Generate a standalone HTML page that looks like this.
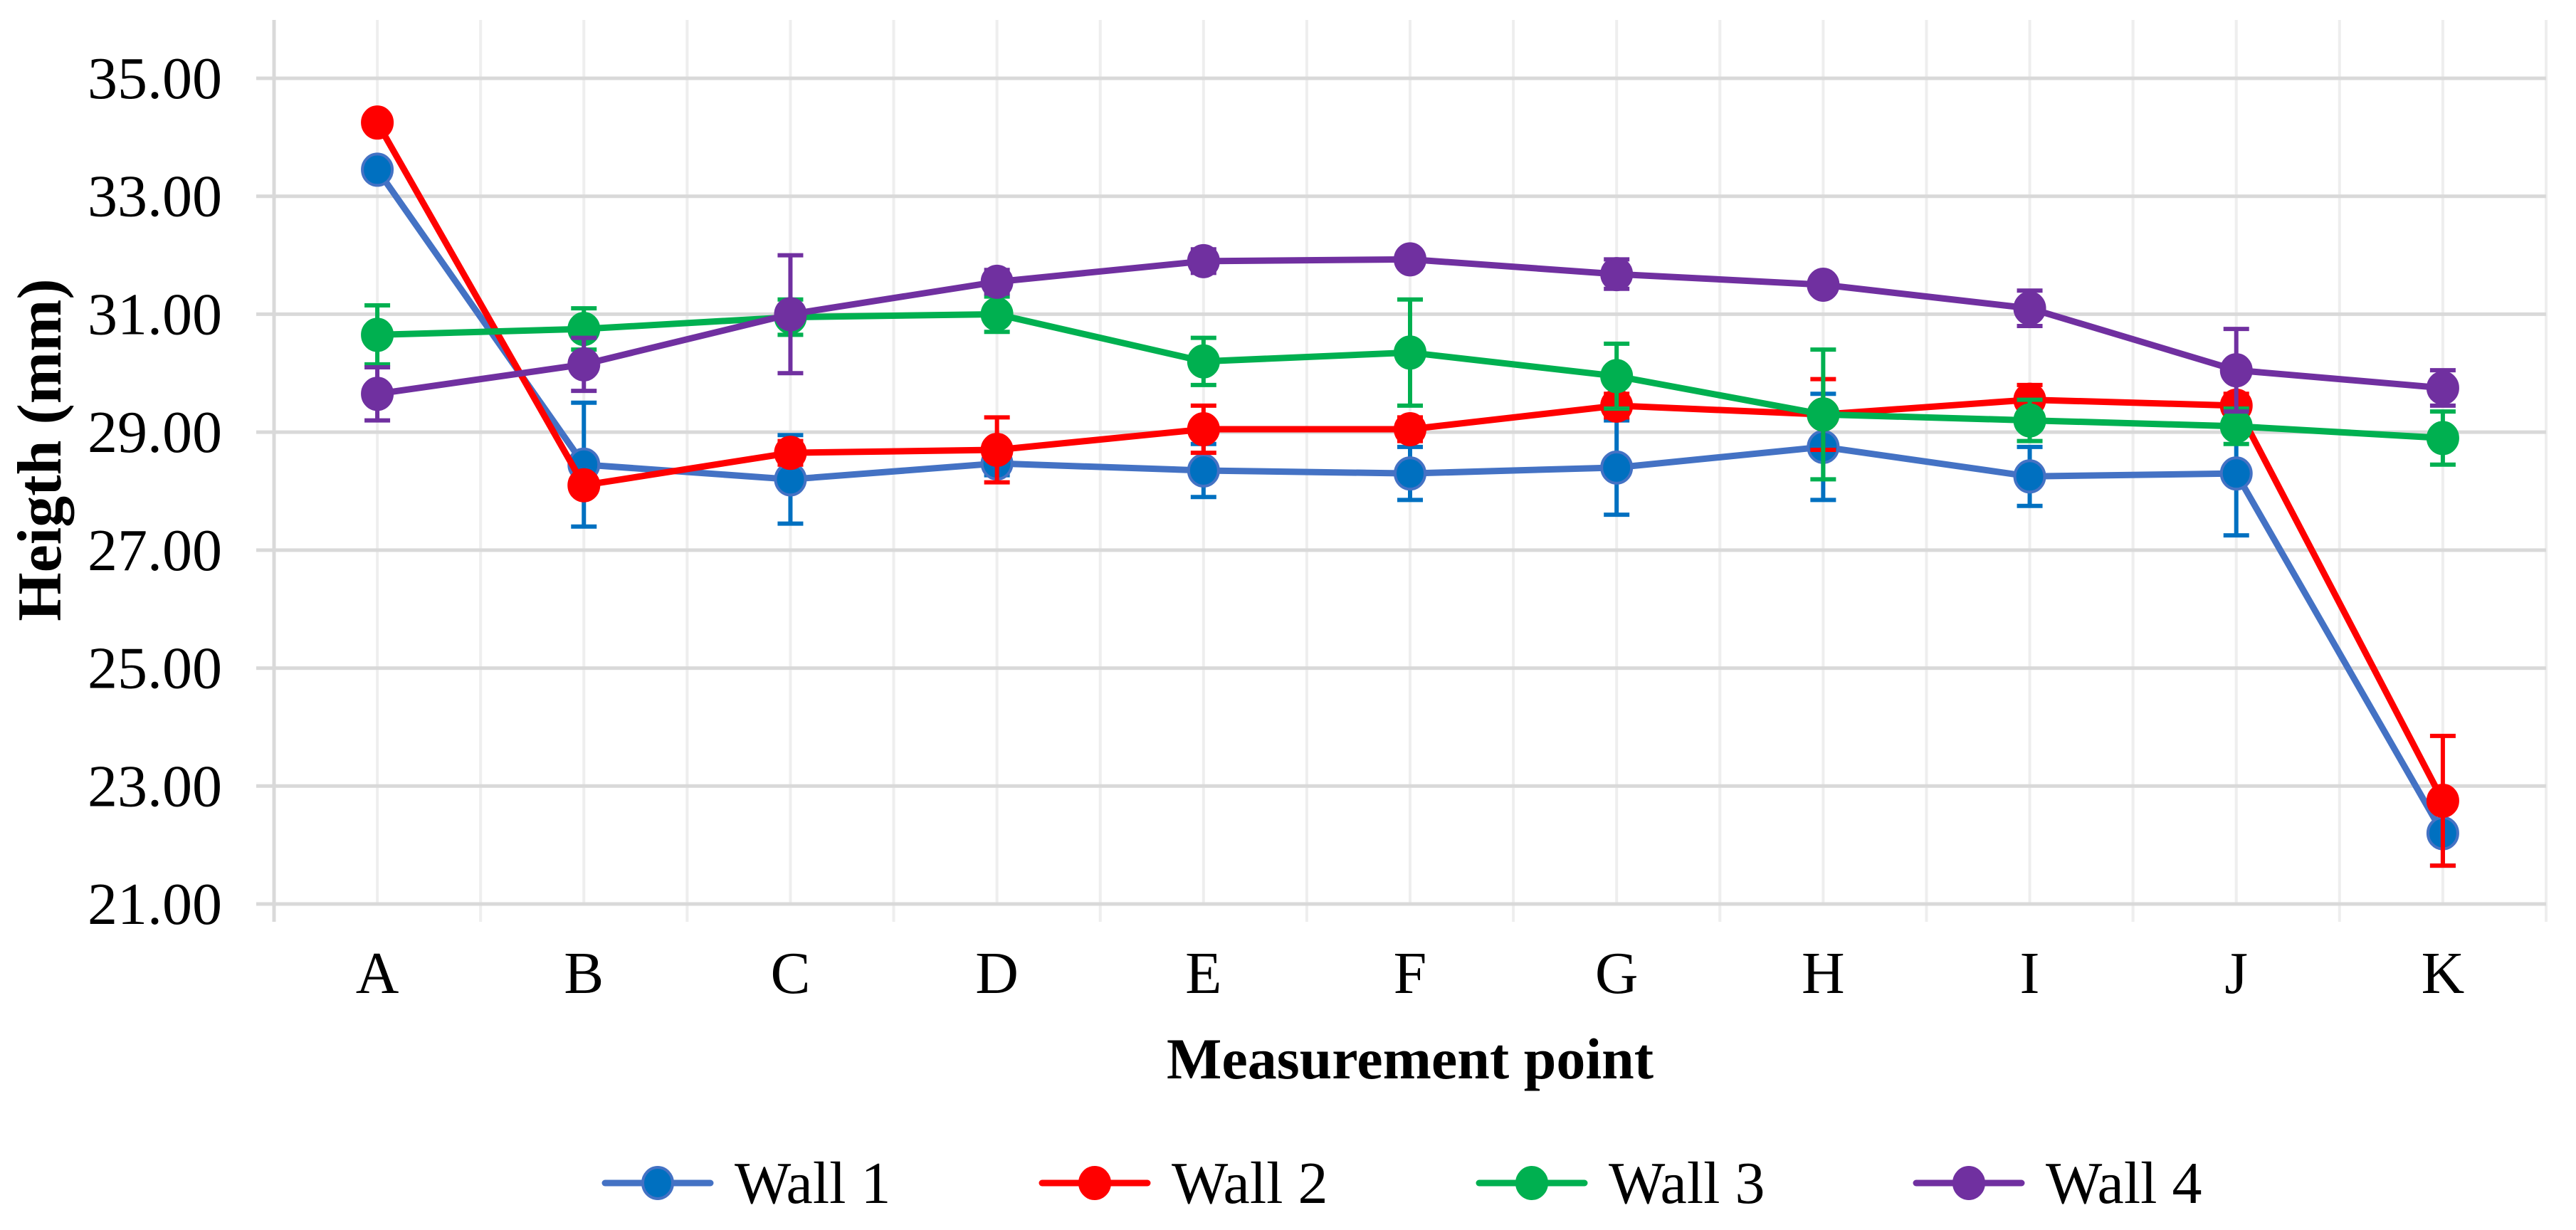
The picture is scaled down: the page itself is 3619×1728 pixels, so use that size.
<!DOCTYPE html>
<html><head><meta charset="utf-8"><style>
html,body{margin:0;padding:0;background:#fff;}
svg{display:block;font-family:"Liberation Serif",serif;}
</style></head><body>
<svg id="chart" width="3619" height="1728" viewBox="0 0 3619 1728" xmlns="http://www.w3.org/2000/svg">
<g id="grid"></g>
<g id="axes"></g>
<g id="series"></g>
<text x="65" y="632" transform="rotate(-90 65 632)" text-anchor="middle" font-size="88" font-weight="bold" dominant-baseline="middle">Heigth (mm)</text>
<text x="1981" y="1515" text-anchor="middle" font-size="82" font-weight="bold">Measurement point</text>
<g id="legend"></g>
</svg>
<script>
const categories=["A","B","C","D","E","F","G","H","I","J","K"];
const yTicks=[21,23,25,27,29,31,33,35];
const seriesNames=["Wall 1","Wall 2","Wall 3","Wall 4"];
const wall1=[33.45,28.45,28.2,28.47,28.35,28.3,28.4,28.75,28.25,28.3,22.2];
const wall1Err=[0.1,1.05,0.75,0.2,0.45,0.45,0.8,0.9,0.5,1.05,0.55];
const wall2=[34.25,28.1,28.65,28.7,29.05,29.05,29.45,29.3,29.55,29.45,22.75];
const wall2Err=[0.1,0.1,0.2,0.55,0.4,0.2,0.2,0.6,0.25,0.2,1.1];
const wall3=[30.65,30.75,30.95,31.0,30.2,30.35,29.95,29.3,29.2,29.1,28.9];
const wall3Err=[0.5,0.35,0.3,0.3,0.4,0.9,0.55,1.1,0.35,0.3,0.45];
const wall4=[29.65,30.15,31.0,31.55,31.9,31.93,31.68,31.5,31.1,30.05,29.75];
const wall4Err=[0.45,0.45,1.0,0.2,0.2,0.15,0.25,0.1,0.3,0.7,0.3];

const NS="http://www.w3.org/2000/svg";
const L=385,R=3577,T=28,B=1270,Y0=21,Y1=35,Y1px=110;
const step=(R-L)/categories.length;
const xc=i=>L+step*(i+0.5);
const y=v=>B-(v-Y0)*(B-Y1px)/(Y1-Y0);
function mk(p,tag,at){const e=document.createElementNS(NS,tag);for(const k in at)e.setAttribute(k,at[k]);p.appendChild(e);return e;}
const grid=document.getElementById('grid'),axes=document.getElementById('axes'),ser=document.getElementById('series'),leg=document.getElementById('legend');
for(let i=0;i<categories.length;i++){
 const g=mk(grid,'line',{x1:xc(i),x2:xc(i),y1:T,y2:B,stroke:'#eeeeee','stroke-width':4});
 
 
 if(i>0){const b=mk(grid,'line',{x1:L+step*i,x2:L+step*i,y1:T,y2:B+25,stroke:'#eeeeee','stroke-width':4});
 
 }
}
mk(grid,'line',{x1:R,x2:R,y1:T,y2:B+25,stroke:'#eeeeee','stroke-width':4});
yTicks.forEach(v=>{
 const g=mk(grid,'line',{x1:L-25,x2:R,y1:y(v),y2:y(v),stroke:'#d9d9d9','stroke-width':5});
 
 
 const t=mk(axes,'text',{x:312,y:y(v)+28,'text-anchor':'end','font-size':84});
 t.textContent=v.toFixed(2);
 
 
});
mk(axes,'line',{x1:L,x2:L,y1:T,y2:B+25,stroke:'#d9d9d9','stroke-width':5});
categories.forEach((c,i)=>{
 const t=mk(axes,'text',{x:xc(i),y:1395,'text-anchor':'middle','font-size':84});
 t.textContent=c;
 
 
});
const data=[wall1,wall2,wall3,wall4],errs=[wall1Err,wall2Err,wall3Err,wall4Err];
const lineCol=['#4472c4','#ff0000','#00b050','#7030a0'],fillCol=['#0070c0','#ff0000','#00b050','#7030a0'],errCol=['#0070c0','#ff0000','#00b050','#7030a0'];
data.forEach((d,s)=>{
 const g=mk(ser,'g',{});
 
 
 const pl=mk(g,'polyline',{points:d.map((v,i)=>xc(i)+','+y(v)).join(' '),fill:'none',stroke:lineCol[s],'stroke-width':9,'stroke-linejoin':'round'});
 
 
 d.forEach((v,i)=>{
  const e=errs[s][i],x=xc(i),yt=y(v+e),yb=y(v-e);
  const eb=mk(g,'path',{d:`M${x},${yt}V${yb}M${x-18},${yt}H${x+18}M${x-18},${yb}H${x+18}`,stroke:errCol[s],'stroke-width':6,fill:'none'});
  
  
 });
 d.forEach((v,i)=>{
  const c=mk(g,'ellipse',{cx:xc(i),cy:y(v),rx:21,ry:22,fill:fillCol[s],stroke:lineCol[s],'stroke-width':4});
  
  
 });
});
seriesNames.forEach((n,s)=>{
 const x0=850+s*614,yy=1662;
 const g=mk(leg,'g',{});
 
 
 mk(g,'line',{x1:x0,x2:x0+148,y1:yy,y2:yy,stroke:lineCol[s],'stroke-width':9,'stroke-linecap':'round'});
 mk(g,'ellipse',{cx:x0+74,cy:yy,rx:21,ry:22,fill:fillCol[s],stroke:lineCol[s],'stroke-width':4});
 const t=mk(g,'text',{x:x0+182,y:yy+28,'font-size':84});
 t.textContent=n;
});
</script>
</body></html>
